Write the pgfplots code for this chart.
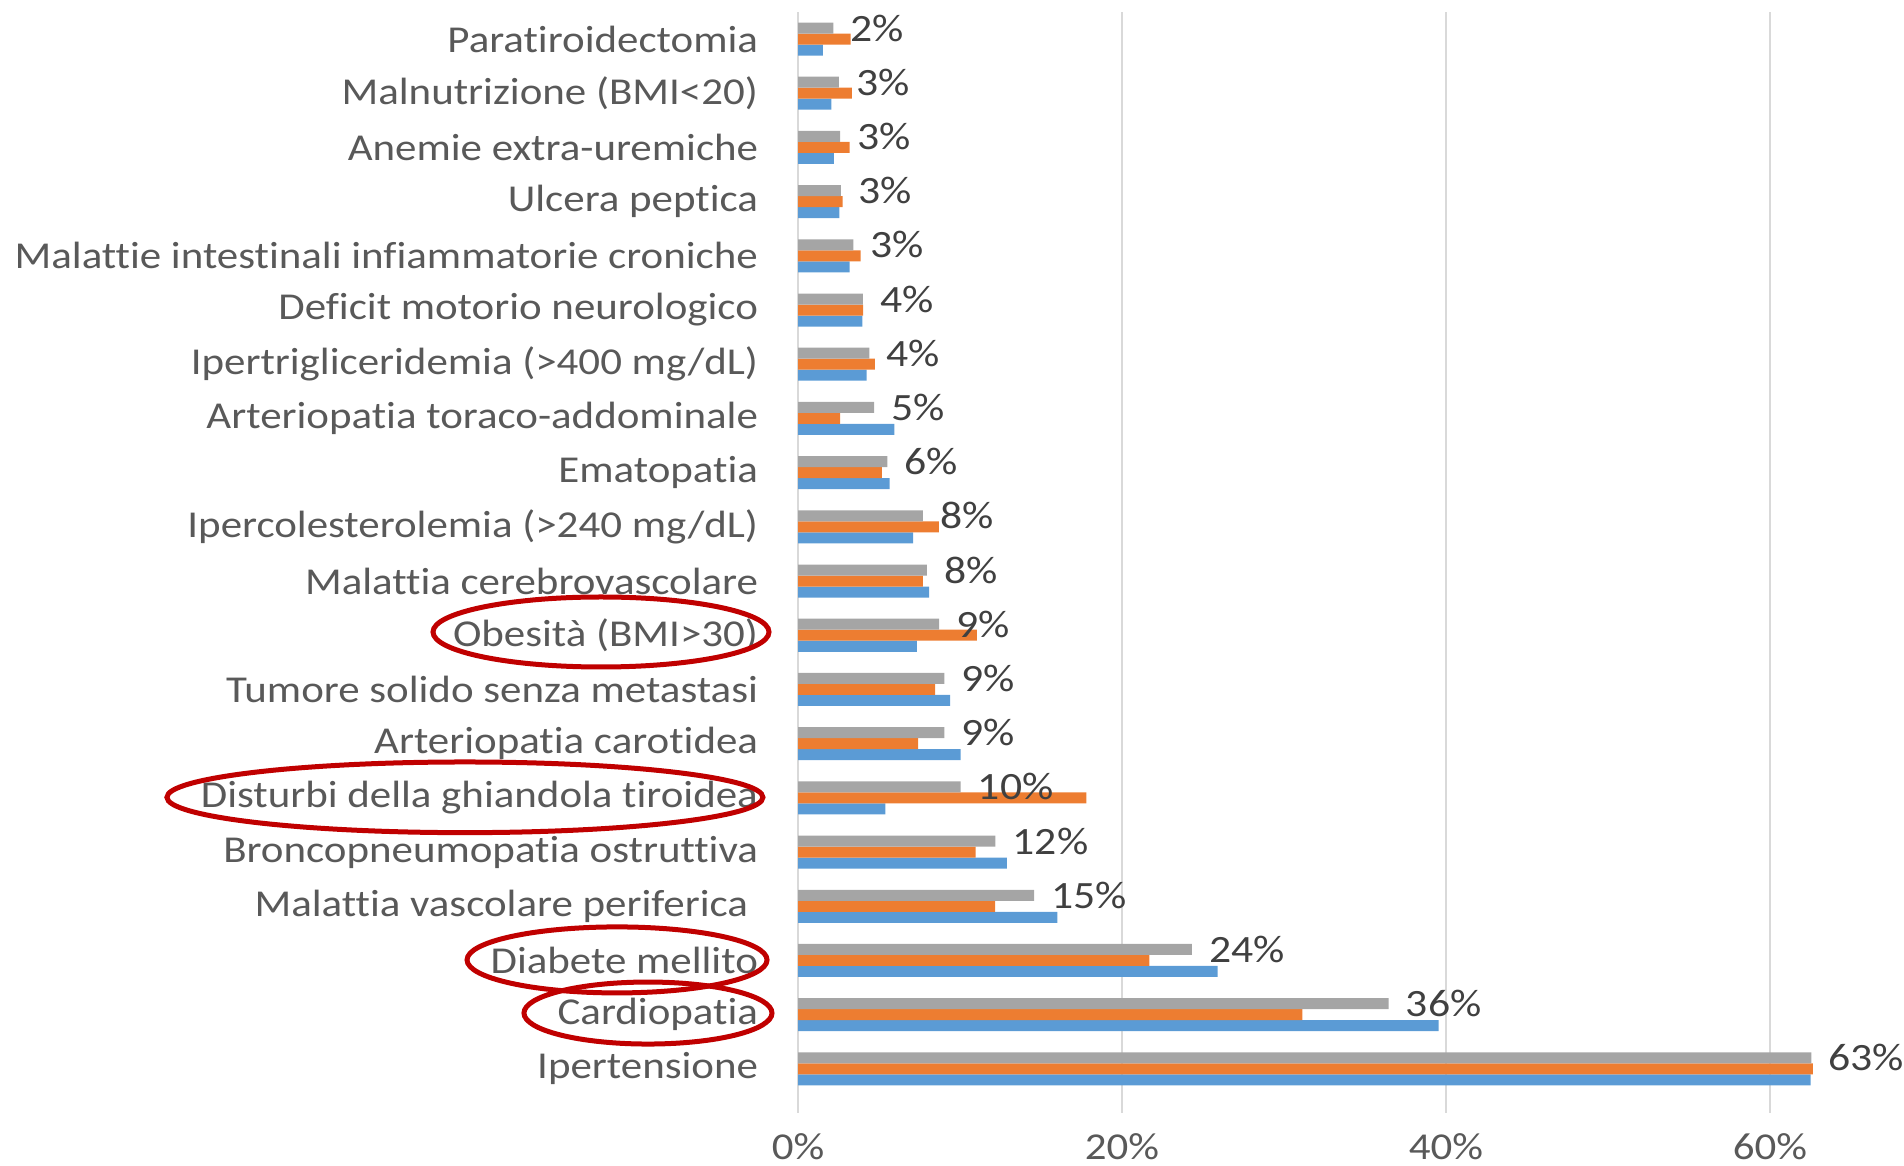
\documentclass[border=0pt]{standalone}
\usepackage{fontspec}
\setmainfont{Carlito}[FakeStretch=1.13, Ligatures=NoCommon]
\usepackage{pgfplots}
\usepackage{pgfplotstable}
\pgfplotsset{compat=1.18}
\definecolor{cblue}{HTML}{5B9BD5}
\definecolor{corange}{HTML}{ED7D31}
\definecolor{cgray}{HTML}{A5A5A5}
\definecolor{cgrid}{HTML}{D9D9D9}
\definecolor{ctext}{HTML}{595959}
\definecolor{clab}{HTML}{404040}
\definecolor{cred}{HTML}{C00000}

\pgfplotstableread{
idx gray orange blue
0 62.55 62.65 62.50
1 36.45 31.14 39.55
2 24.31 21.69 25.90
3 14.57 12.17 16.01
4 12.19 10.97 12.90
5 10.04 17.80 5.39
6 9.04 7.42 10.03
7 9.04 8.47 9.39
8 8.71 11.04 7.33
9 7.95 7.70 8.09
10 7.70 8.69 7.11
11 5.52 5.17 5.66
12 4.70 2.60 5.95
13 4.41 4.74 4.24
14 4.00 4.02 3.98
15 3.42 3.87 3.19
16 2.64 2.76 2.55
17 2.60 3.19 2.22
18 2.53 3.32 2.06
19 2.18 3.25 1.54
}\datatable

\begin{document}
\begin{tikzpicture}
\begin{axis}[
  x=4.86pt, y=16.26pt,
  xmin=0, xmax=66, ymin=-0.5, ymax=19.5,
  xbar, bar width=0.203,
  axis line style={draw=none},
  xtick={0,20,40,60},
  xtick pos=left,
  xtick align=outside,
  major tick length=5pt,
  xtick style={draw=cgrid, line width=0.75pt},
  xmajorgrids,
  major grid style={draw=cgrid, line width=0.75pt},
  ytick={0,...,19},
  yticklabels={
    {Ipertensione},
    {Cardiopatia},
    {Diabete mellito},
    {Malattia vascolare periferica\rule{3pt}{0pt}},
    {Broncopneumopatia ostruttiva},
    {Disturbi della ghiandola tiroidea},
    {Arteriopatia carotidea},
    {Tumore solido senza metastasi},
    {Obesità (BMI>30)},
    {Malattia cerebrovascolare},
    {Ipercolesterolemia (>240 mg/dL)},
    {Ematopatia},
    {Arteriopatia toraco-addominale},
    {Ipertrigliceridemia (>400 mg/dL)},
    {Deficit motorio neurologico},
    {Malattie intestinali infiammatorie croniche},
    {Ulcera peptica},
    {Anemie extra-uremiche},
    {Malnutrizione (BMI<20)},
    {Paratiroidectomia}},
  ytick style={draw=none},
  yticklabel style={font=\fontsize{11.4}{13.7}\selectfont, text=ctext, anchor=east, inner sep=0pt, xshift=-6.8pt},
  /pgf/number format/assume math mode=true,
  xticklabel={\pgfmathprintnumber{\tick}\%},
  xticklabel style={font=\fontsize{11.4}{13.7}\selectfont, text=ctext, anchor=north, inner sep=0pt, yshift=-6.2pt},
  clip=false,
]
\addplot[xbar, bar shift=-0.203, fill=cblue, draw=none] table[x=blue, y=idx] {\datatable};
\addplot[xbar, bar shift=0, fill=corange, draw=none] table[x=orange, y=idx] {\datatable};
\addplot[xbar, bar shift=0.203, fill=cgray, draw=none,
  point meta=x,
  nodes near coords={\pgfmathprintnumber[fixed,precision=0]{\pgfplotspointmeta}\%},
  every node near coord/.append style={anchor=west, inner sep=0pt, xshift=5pt,
    font=\fontsize{11.6}{13.7}\selectfont, text=clab}
] table[x=gray, y=idx] {\datatable};

\draw[cred, line width=1.5pt] (axis cs:-12.16,8.06) ellipse [x radius=50.4pt, y radius=10.5pt];
\draw[cred, line width=1.5pt] (axis cs:-20.56,5.01) ellipse [x radius=89.4pt, y radius=10.6pt];
\draw[cred, line width=1.5pt] (axis cs:-11.17,2.01) ellipse [x radius=45pt, y radius=9.9pt];
\draw[cred, line width=1.5pt] (axis cs:-9.26,1.03) ellipse [x radius=37.2pt, y radius=9.3pt];

\coordinate (BL) at (axis cs:-49.26,-1.79);
\coordinate (TR) at (axis cs:68.27,19.72);
\end{axis}
\pgfresetboundingbox
\path[use as bounding box] (BL) rectangle (TR);
\end{tikzpicture}
\end{document}
